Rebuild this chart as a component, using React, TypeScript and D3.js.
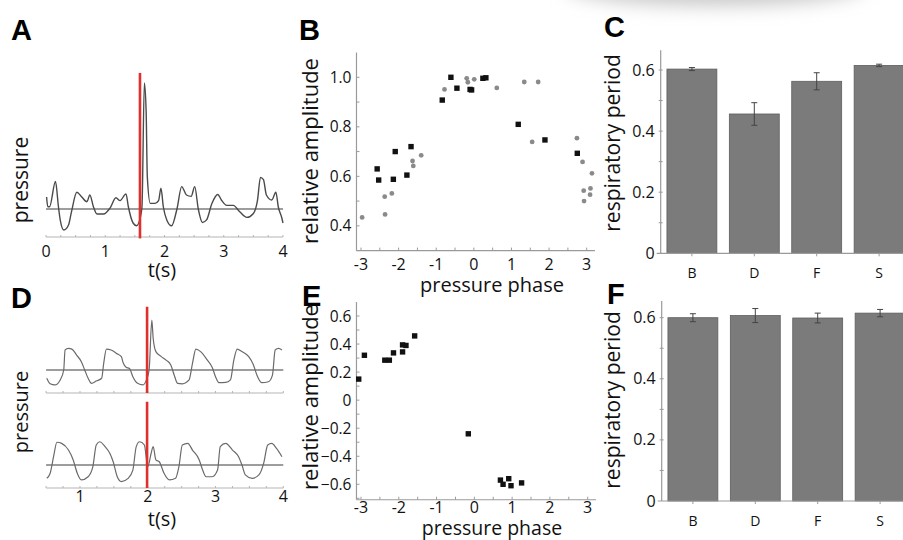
import React from 'react'
import * as d3 from 'd3'

// ---- data ----
// panel A: pressure trace, [t (s), pressure (a.u.)]
const traceA: [number, number][] = [
  [0.01, 0.43], [0.03, 0.08], [0.06, 0.08], [0.16, 0.98], [0.21, 0.08], [0.24, -0.39],
  [0.30, -0.75], [0.38, -0.57], [0.43, -0.1], [0.52, 0.6], [0.60, 0.44], [0.69, 0.26],
  [0.74, 0.5], [0.80, 0.08], [0.86, -0.18], [0.97, -0.18], [1.08, 0.03], [1.18, 0.4],
  [1.25, 0.3], [1.35, 0.54], [1.39, 0.08], [1.47, -0.5], [1.53, -0.6], [1.59, -0.32],
  [1.62, 0.08], [1.66, 4.5], [1.69, 3.5], [1.71, 1.15], [1.76, 0.2], [1.84, 0.2],
  [1.90, 0.3], [1.94, 0.74], [1.98, 0.08], [2.04, -0.4], [2.12, -0.6], [2.21, 0.0],
  [2.29, 0.8], [2.37, 0.5], [2.45, 0.45], [2.51, 0.8], [2.57, 0.0], [2.64, -0.48],
  [2.71, -0.39], [2.80, 0.2], [2.90, 0.52], [2.96, 0.32], [3.05, 0.13], [3.16, 0.13],
  [3.27, -0.1], [3.39, -0.3], [3.50, -0.16], [3.57, 0.32], [3.62, 1.13], [3.67, 1.05],
  [3.72, 0.5], [3.81, 0.32], [3.88, 0.6], [3.92, 0.08], [3.98, -0.32], [4.0, -0.5]
]
const stimA = 1.586

// panel D: two pressure traces
const traceD1: [number, number][] = [
  [0.51, -0.36], [0.56, -0.6], [0.63, -0.65], [0.71, -0.42], [0.76, 0], [0.78, 0.87],
  [0.83, 0.94], [0.88, 0.91], [0.95, 0.65], [1.02, 0.36], [1.07, 0], [1.12, -0.36],
  [1.17, -0.58], [1.24, -0.48], [1.32, -0.36], [1.35, 0.29], [1.39, 0.91], [1.46, 0.87],
  [1.54, 0.72], [1.61, 0.58], [1.64, 0.29], [1.68, 0.12], [1.73, 0.07], [1.78, -0.29],
  [1.85, -0.58], [1.93, -0.65], [1.98, -0.43], [2.02, 0], [2.06, 2.17], [2.08, 1.38],
  [2.12, 0.8], [2.2, 0.58], [2.27, 0.43], [2.34, 0.22], [2.39, -0.22], [2.44, -0.58],
  [2.51, -0.6], [2.61, -0.43], [2.66, 0.29], [2.71, 0.91], [2.78, 0.8], [2.88, 0.43],
  [2.95, 0.12], [3.0, -0.29], [3.05, -0.55], [3.15, -0.54], [3.22, -0.43], [3.27, 0.43],
  [3.32, 0.91], [3.39, 0.8], [3.49, 0.58], [3.56, 0.22], [3.61, -0.22], [3.68, -0.55],
  [3.78, -0.51], [3.84, -0.22], [3.88, 0.87], [3.93, 0.94], [3.98, 0.87]
]
const traceD2: [number, number][] = [
  [0.51, -0.58], [0.56, -0.36], [0.61, 0.36], [0.66, 0.99], [0.73, 0.94], [0.83, 0.65],
  [0.90, 0.22], [0.96, -0.36], [1.02, -0.65], [1.12, -0.51], [1.19, -0.07], [1.24, 0.87],
  [1.29, 1.01], [1.37, 0.8], [1.44, 0.51], [1.49, 0.14], [1.55, -0.51], [1.61, -0.72],
  [1.71, -0.58], [1.78, -0.22], [1.83, 0.8], [1.88, 1.01], [1.95, 0.87], [2.0, -0.07],
  [2.05, 0.51], [2.08, 0.8], [2.12, 0.22], [2.17, 0.14], [2.24, -0.36], [2.32, -0.65],
  [2.41, -0.58], [2.46, -0.07], [2.51, 0.87], [2.59, 0.94], [2.66, 0.65], [2.76, 0.22],
  [2.81, -0.22], [2.86, -0.51], [2.95, -0.51], [3.03, -0.22], [3.07, 0.8], [3.15, 0.94],
  [3.25, 0.65], [3.34, 0.36], [3.39, 0], [3.44, -0.43], [3.54, -0.58], [3.64, -0.43],
  [3.71, 0.07], [3.77, 0.87], [3.83, 0.94], [3.90, 0.72], [3.98, 0.36]
]
const stimD = 1.99

// panel B: [pressure phase, relative amplitude]
const blackB: [number, number][] = [
  [-0.61, 1.0], [-0.45, 0.956], [-0.84, 0.908], [-0.10, 0.951], [-0.06, 0.949],
  [0.24, 0.996], [0.32, 0.998], [1.18, 0.81], [1.89, 0.747], [2.75, 0.693],
  [-2.57, 0.63], [-2.53, 0.585], [-2.09, 0.70], [-2.14, 0.588], [-1.67, 0.72], [-1.78, 0.605]
]
const grayB: [number, number][] = [
  [-0.78, 0.951], [-0.19, 0.996], [-0.16, 0.98], [0.01, 0.992], [0.61, 0.957],
  [1.34, 0.981], [1.71, 0.981], [1.55, 0.739], [2.74, 0.754], [2.89, 0.658],
  [3.14, 0.612], [2.92, 0.542], [3.10, 0.551], [3.09, 0.526], [2.93, 0.50],
  [-2.97, 0.434], [-2.37, 0.518], [-2.36, 0.446], [-2.18, 0.531], [-1.63, 0.662],
  [-1.61, 0.642], [-1.40, 0.685]
]

// panel E
const blackE: [number, number][] = [
  [-3.06, 0.15], [-2.91, 0.32], [-2.37, 0.285], [-2.25, 0.285], [-2.14, 0.337],
  [-1.90, 0.394], [-1.81, 0.39], [-1.90, 0.344], [-1.58, 0.458], [-0.16, -0.24],
  [0.69, -0.57], [0.76, -0.60], [0.91, -0.56], [0.97, -0.61], [1.25, -0.59]
]

// panels C and F: respiratory period
const cats = ['B', 'D', 'F', 'S']
const periodC = [0.603, 0.456, 0.563, 0.615]
const errC = [0.005, 0.037, 0.028, 0.004]
const periodF = [0.600, 0.607, 0.599, 0.615]
const errF = [0.013, 0.023, 0.016, 0.012]

const phaseTicks = [-3, -2, -1, 0, 1, 2, 3]
const ampTicksB = [0.4, 0.6, 0.8, 1.0]
const ampTicksE = [-0.6, -0.4, -0.2, 0, 0.2, 0.4, 0.6]
const periodTicks = [0, 0.2, 0.4, 0.6]

const FONT = '"Open Sans", "Noto Sans", sans-serif'
const LETTER = '"Liberation Sans", Arial, sans-serif'
const AX = '#9a9a9a'
const RED = '#e0302e'

const fmt = (v: number) => (v === 0 ? '0' : d3.format('.1f')(v))

function Letter({ x, y, t }: { x: number; y: number; t: string }) {
  return (
    <text x={x} y={y} fontFamily={LETTER} fontWeight="bold" fontSize={29} fill="#000">
      {t}
    </text>
  )
}

function VLabel({ x, y, t, size }: { x: number; y: number; t: string; size: number }) {
  return (
    <text transform={`translate(${x},${y}) rotate(-90)`} textAnchor="middle"
      fontFamily={FONT} fontSize={size} fill="#111">
      {t}
    </text>
  )
}

function Trace({ data, x, y, x0, x1, color, width }: {
  data: [number, number][]; x: d3.ScaleLinear<number, number>; y: d3.ScaleLinear<number, number>
  x0: number; x1: number; color: string; width: number
}) {
  const line = d3.line<[number, number]>().x(d => x(d[0])).y(d => y(d[1])).curve(d3.curveMonotoneX)
  const minor = d3.range(Math.ceil(x0 * 4) / 4, x1 + 0.001, 0.25)
  return (
    <g>
      <line x1={x(x0)} x2={x(x1)} y1={y(-1)} y2={y(-1)} stroke="#b5b5b5" strokeWidth={1.2} />
      {minor.map((t, i) => (
        <line key={i} x1={x(t)} x2={x(t)} y1={y(-1)} y2={y(-1) - 2} stroke="#b5b5b5" />
      ))}
      <line x1={x(x0)} x2={x(x1)} y1={y(0)} y2={y(0)} stroke="#7d7d7d" strokeWidth={1.6} />
      <path d={line(data) ?? ''} fill="none" stroke={color} strokeWidth={width} />
    </g>
  )
}

function Scatter({ black, gray, x, y, yLo, yHi, yTicks, xAxisLo, xAxisHi, tickDy }: {
  black: [number, number][]; gray: [number, number][]
  x: d3.ScaleLinear<number, number>; y: d3.ScaleLinear<number, number>
  yLo: number; yHi: number; yTicks: number[]; xAxisLo: number; xAxisHi: number; tickDy: number
}) {
  const ax = x(xAxisLo)
  const minorX = d3.range(-3, 3.01, 0.5)
  const minorY = d3.range(Math.ceil(yLo * 10) / 10, yHi, 0.1)
  return (
    <g>
      <line x1={ax} x2={ax} y1={y(yLo)} y2={y(yHi)} stroke={AX} strokeWidth={1.2} />
      <line x1={ax} x2={x(xAxisHi)} y1={y(yLo)} y2={y(yLo)} stroke={AX} strokeWidth={1.2} />
      {minorY.map((v, i) => (
        <line key={i} x1={ax} x2={ax + 3} y1={y(v)} y2={y(v)} stroke={AX} />
      ))}
      {minorX.map((v, i) => (
        <line key={i} x1={x(v)} x2={x(v)} y1={y(yLo)} y2={y(yLo) - 3} stroke={AX} />
      ))}
      {yTicks.map(v => (
        <text key={v} x={ax - 5} y={y(v) + 5.5} textAnchor="end" fontFamily={FONT} fontSize={15.5} fill="#111">
          {fmt(v)}
        </text>
      ))}
      {phaseTicks.map(v => (
        <text key={v} x={x(v)} y={y(yLo) + tickDy} textAnchor="middle" fontFamily={FONT} fontSize={16} fill="#111">
          {v}
        </text>
      ))}
      {gray.map((d, i) => (
        <circle key={'g' + i} cx={x(d[0])} cy={y(d[1])} r={2.4} fill="#8a8a8a" />
      ))}
      {black.map((d, i) => (
        <rect key={'b' + i} x={x(d[0]) - 2.7} y={y(d[1]) - 2.7} width={5.4} height={5.4} fill="#111" />
      ))}
    </g>
  )
}

function Bars({ vals, errs, x, y, yTop }: {
  vals: number[]; errs: number[]; x: d3.ScaleBand<string>; y: d3.ScaleLinear<number, number>; yTop: number
}) {
  const ax = x.range()[0]
  const bw = x.bandwidth()
  const minor = d3.range(0.1, yTop, 0.1)
  return (
    <g>
      {cats.map((c, i) => (
        <rect key={c} x={x(c)} y={y(vals[i])} width={bw} height={y(0) - y(vals[i])}
          fill="#7b7b7b" stroke="#5e5e5e" strokeWidth={0.8} />
      ))}
      {cats.map((c, i) => {
        const cx = (x(c) ?? 0) + bw / 2
        return (
          <g key={c} stroke="#444" strokeWidth={1}>
            <line x1={cx} x2={cx} y1={y(vals[i] + errs[i])} y2={y(vals[i] - errs[i])} />
            <line x1={cx - 3} x2={cx + 3} y1={y(vals[i] + errs[i])} y2={y(vals[i] + errs[i])} />
            <line x1={cx - 3} x2={cx + 3} y1={y(vals[i] - errs[i])} y2={y(vals[i] - errs[i])} />
          </g>
        )
      })}
      <line x1={ax} x2={ax} y1={y(0)} y2={y(yTop)} stroke={AX} strokeWidth={1.2} />
      <line x1={ax - 4} x2={x.range()[1]} y1={y(0)} y2={y(0)} stroke={AX} strokeWidth={1.2} />
      {minor.map((v, i) => (
        <line key={i} x1={ax - 2} x2={ax + 2} y1={y(v)} y2={y(v)} stroke={AX} />
      ))}
      {periodTicks.map(v => (
        <text key={v} x={ax - 6} y={y(v) + 5.5} textAnchor="end" fontFamily={FONT} fontSize={16} fill="#111">
          {fmt(v)}
        </text>
      ))}
      {cats.map(c => (
        <g key={c}>
          <line x1={(x(c) ?? 0) + bw / 2} x2={(x(c) ?? 0) + bw / 2} y1={y(0)} y2={y(0) + 3} stroke={AX} />
          <text x={(x(c) ?? 0) + bw / 2} y={y(0) + 25} textAnchor="middle" fontFamily={FONT} fontSize={14} fill="#111">
            {c}
          </text>
        </g>
      ))}
    </g>
  )
}

export default function App() {
  // A
  const xA = d3.scaleLinear().domain([0, 4]).range([46, 283])
  const yA = d3.scaleLinear().domain([-1, 4.5]).range([237, 83])
  // D
  const xD = d3.scaleLinear().domain([0.5, 4]).range([46.1, 283.3])
  const yD1 = d3.scaleLinear().domain([-1, 2]).range([393, 324])
  const yD2 = d3.scaleLinear().domain([-1, 2]).range([488, 419])
  // B, E
  const xB = d3.scaleLinear().domain([-3, 3]).range([361, 586.7])
  const yB = d3.scaleLinear().domain([0.3, 1.0]).range([250.6, 77.3])
  const xE = d3.scaleLinear().domain([-3, 3]).range([361, 587.7])
  const yE = d3.scaleLinear().domain([-0.6, 0.6]).range([484.3, 316])
  // C, F
  const xC = d3.scaleBand<string>().domain(cats).range([660.7, 910.3]).paddingInner(0.2).paddingOuter(0.1)
  const yC = d3.scaleLinear().domain([0, 0.6]).range([253.3, 70])
  const xF = d3.scaleBand<string>().domain(cats).range([661.7, 911.3]).paddingInner(0.2).paddingOuter(0.1)
  const yF = d3.scaleLinear().domain([0, 0.6]).range([501, 317.7])

  return (
    <svg width={903} height={540} viewBox="0 0 903 540"
      style={{ position: 'absolute', left: 0, top: 0, background: '#fff' }}>
      <defs>
        <filter id="blur" x="-50%" y="-50%" width="200%" height="200%">
          <feGaussianBlur stdDeviation="9" />
        </filter>
      </defs>
      <rect width={903} height={540} fill="#fff" />
      <ellipse cx={715} cy={-14} rx={150} ry={20} fill="#c9c9c9" filter="url(#blur)" />

      {/* A */}
      <Letter x={11} y={40} t="A" />
      <Trace data={traceA} x={xA} y={yA} x0={0} x1={4} color="#4a4a4a" width={1.4} />
      <line x1={xA(stimA)} x2={xA(stimA)} y1={yA(4.86)} y2={yA(-1.05)} stroke={RED} strokeWidth={2.6} />
      {xA.ticks(4).map(t => (
        <text key={t} x={xA(t)} y={257} textAnchor="middle" fontFamily={FONT} fontSize={16} fill="#111">{t}</text>
      ))}
      <text x={162} y={277} textAnchor="middle" fontFamily={FONT} fontSize={20} fill="#111">t(s)</text>
      <VLabel x={28} y={180} t="pressure" size={21} />

      {/* D */}
      <Letter x={11} y={308} t="D" />
      <Trace data={traceD1} x={xD} y={yD1} x0={0.5} x1={4} color="#6a6a6a" width={1.2} />
      <Trace data={traceD2} x={xD} y={yD2} x0={0.5} x1={4} color="#6a6a6a" width={1.2} />
      <line x1={xD(stimD)} x2={xD(stimD)} y1={yD1(2.75)} y2={yD1(-1)} stroke={RED} strokeWidth={2.6} />
      <line x1={xD(stimD)} x2={xD(stimD)} y1={yD2(2.75)} y2={yD2(-1)} stroke={RED} strokeWidth={2.6} />
      {[1, 2, 3, 4].map(t => (
        <text key={t} x={xD(t)} y={502} textAnchor="middle" fontFamily={FONT} fontSize={16} fill="#111">{t}</text>
      ))}
      <text x={162} y={526} textAnchor="middle" fontFamily={FONT} fontSize={20} fill="#111">t(s)</text>
      <VLabel x={28} y={412} t="pressure" size={20} />

      {/* B */}
      <Letter x={299} y={40} t="B" />
      <Scatter black={blackB} gray={grayB} x={xB} y={yB} yLo={0.3} yHi={1.1}
        yTicks={ampTicksB} xAxisLo={-3.12} xAxisHi={3.22} tickDy={19.5} />
      <VLabel x={318} y={151} t="relative amplitude" size={22} />
      <text x={492} y={292} textAnchor="middle" fontFamily={FONT} fontSize={20} fill="#111">pressure phase</text>

      {/* E */}
      <Letter x={302} y={306} t="E" />
      <Scatter black={blackE} gray={[]} x={xE} y={yE} yLo={-0.71} yHi={0.7}
        yTicks={ampTicksE} xAxisLo={-3.12} xAxisHi={3.22} tickDy={13.5} />
      <VLabel x={318} y={397} t="relative amplitude" size={22} />
      <text x={492} y={535} textAnchor="middle" fontFamily={FONT} fontSize={19.5} fill="#111">pressure phase</text>

      {/* C */}
      <Letter x={604} y={37} t="C" />
      <Bars vals={periodC} errs={errC} x={xC} y={yC} yTop={0.665} />
      <VLabel x={620} y={143} t="respiratory period" size={21} />

      {/* F */}
      <Letter x={607} y={304} t="F" />
      <Bars vals={periodF} errs={errF} x={xF} y={yF} yTop={0.655} />
      <VLabel x={620} y={400} t="respiratory period" size={21} />
    </svg>
  )
}
